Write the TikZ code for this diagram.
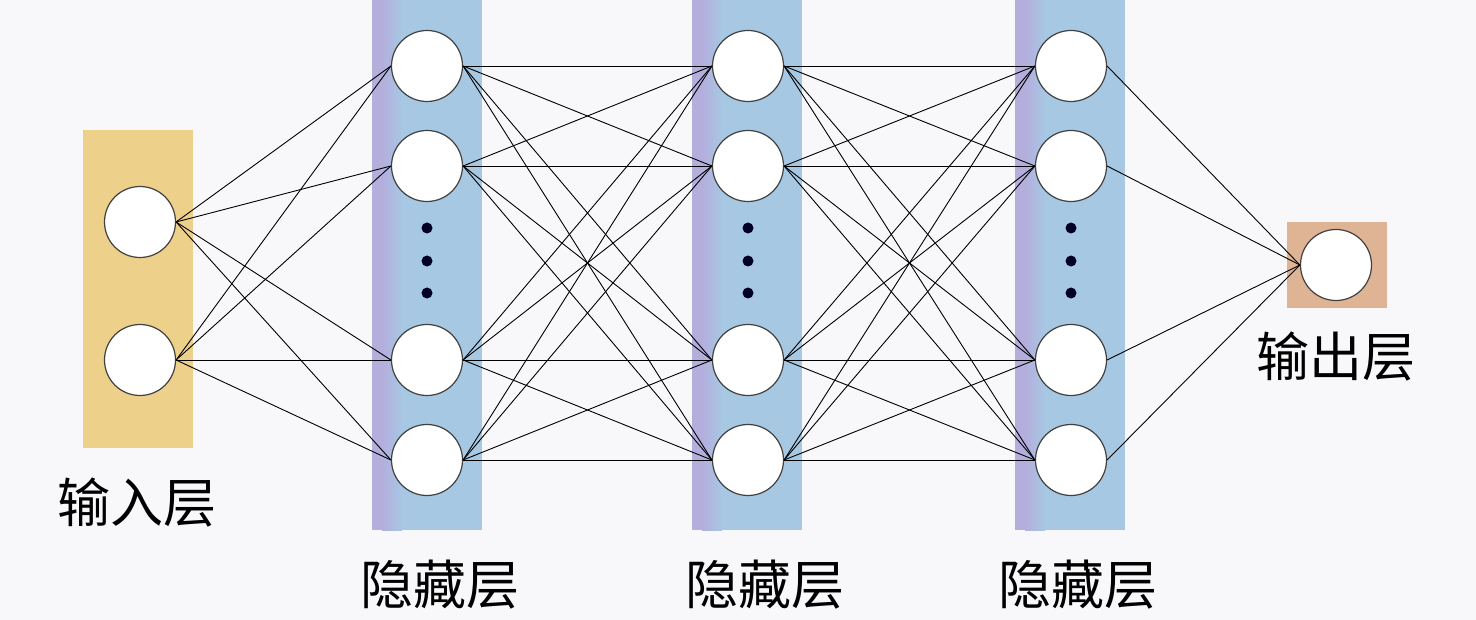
\documentclass[tikz,border=0pt]{standalone}
\usepackage{fontspec}
\newfontfamily\cjk{Noto Sans CJK SC}
\definecolor{barblue}{HTML}{A6C8E3}
\definecolor{barpurple}{HTML}{B4AEDD}
\definecolor{inyellow}{HTML}{EDD08A}
\definecolor{outtan}{HTML}{DEB495}
\definecolor{bg}{HTML}{F8F8FA}
\begin{document}
\begin{tikzpicture}[x=1pt,y=-1pt,
  neuron/.style={circle,draw=black!75,line width=1.2pt,fill=white,minimum size=71pt,inner sep=0pt},
  link/.style={draw=black,line width=0.9pt},
  dotnode/.style={circle,fill=black!85!blue,minimum size=11pt,inner sep=0pt},
  lbl/.style={font=\cjk\fontsize{53}{53}\selectfont,inner sep=0pt}]
\useasboundingbox (0,0) rectangle (1476,620);
\fill[bg] (0,0) rectangle (1476,620);
% boxes
\fill[inyellow] (83,130) rectangle (193,448);
\foreach \x in {372,692,1015}{
  \fill[barblue] (\x,0) rectangle (\x+110,530);
  \shade[left color=barpurple,right color=barblue] (\x+10,0) rectangle (\x+30,530);
  \fill[barpurple] (\x,0) rectangle (\x+10,530);
}
\fill[outtan] (1287,222) rectangle (1387,308);
% neurons
\node[neuron] (i1) at (140,222) {};
\node[neuron] (i2) at (140,360) {};
\foreach \l/\x in {a/427,b/748,c/1071}{
  \node[neuron] (\l1) at (\x,66) {};
  \node[neuron] (\l2) at (\x,166) {};
  \node[neuron] (\l3) at (\x,360) {};
  \node[neuron] (\l4) at (\x,460) {};
  \node[dotnode] (\l d1) at (\x,228) {};
  \node[dotnode] (\l d2) at (\x,261) {};
  \node[dotnode] (\l d3) at (\x,293) {};
}
\node[neuron] (o) at (1336,265) {};
% links
\foreach \i in {1,2}{\foreach \j in {1,...,4}{\draw[link] (i\i.east) -- (a\j.west);}}
\foreach \i in {1,...,4}{\foreach \j in {1,...,4}{
  \draw[link] (a\i.east) -- (b\j.west);
  \draw[link] (b\i.east) -- (c\j.west);}}
\foreach \i in {1,...,4}{\draw[link] (c\i.east) -- (o.west);}
% labels
\node[lbl] (lin) at (137,503) {输入层};
\node[lbl] (lh1) at (440,585) {隐藏层};
\node[lbl] (lh2) at (765,585) {隐藏层};
\node[lbl] (lh3) at (1078,585) {隐藏层};
\node[lbl] (lout) at (1336,357) {输出层};
\end{tikzpicture}
\end{document}
